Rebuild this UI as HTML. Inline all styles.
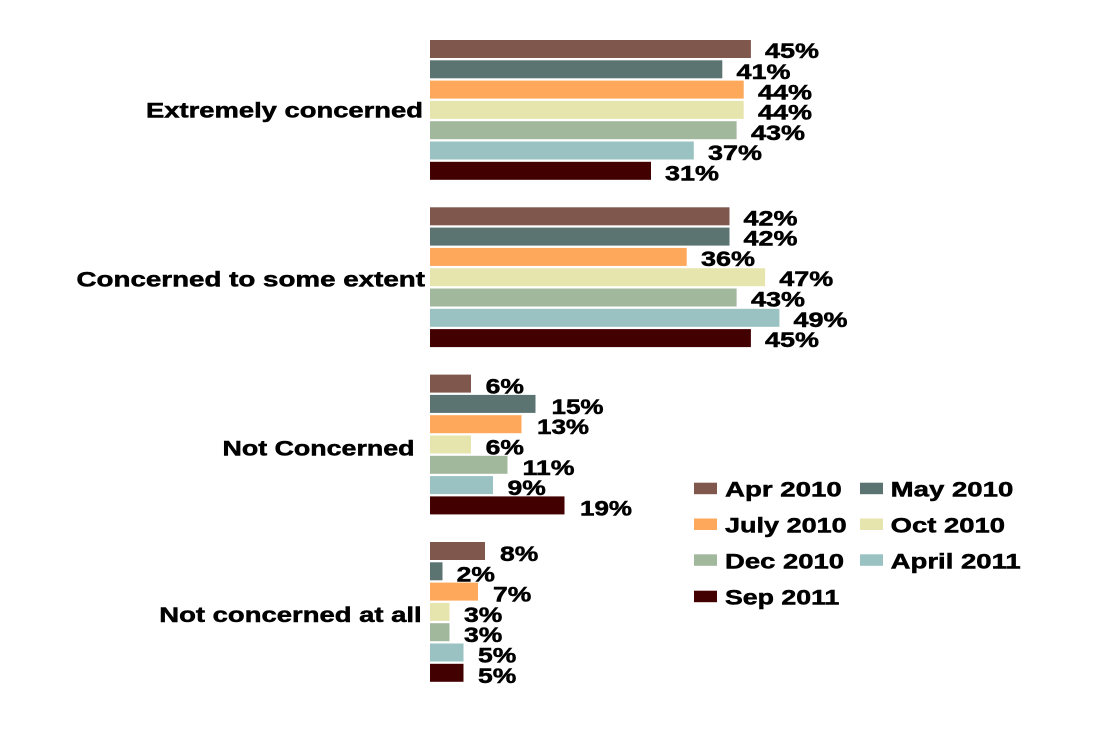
<!DOCTYPE html>
<html>
<head>
<meta charset="utf-8">
<style>
html,body{margin:0;padding:0;background:#ffffff;}
svg{display:block;}
text{font-family:"Liberation Sans",Arial,sans-serif;font-weight:bold;fill:#000;stroke:#000;stroke-width:0.5px;}
</style>
</head>
<body>
<svg width="1096" height="747" viewBox="0 0 1096 747" xmlns="http://www.w3.org/2000/svg">
<rect x="0" y="0" width="1096" height="747" fill="#ffffff"/>

<!-- Category labels -->
<text x="146" y="117.5" font-size="21" textLength="277" lengthAdjust="spacingAndGlyphs">Extremely concerned</text>
<text x="76.5" y="286.5" font-size="21" textLength="348.5" lengthAdjust="spacingAndGlyphs">Concerned to some extent</text>
<text x="222.5" y="455.7" font-size="21" textLength="192" lengthAdjust="spacingAndGlyphs">Not Concerned</text>
<text x="159.3" y="622" font-size="21" textLength="262.4" lengthAdjust="spacingAndGlyphs">Not concerned at all</text>

<!-- Group 1: Extremely concerned -->
<g>
<rect x="430" y="40" width="320.9" height="18" fill="#80574C"/>
<rect x="430" y="60.3" width="292.3" height="18" fill="#5B7472"/>
<rect x="430" y="80.6" width="313.7" height="18" fill="#FDA85A"/>
<rect x="430" y="100.9" width="313.7" height="18" fill="#E7E5AE"/>
<rect x="430" y="121.2" width="306.6" height="18" fill="#A2B89C"/>
<rect x="430" y="141.5" width="263.8" height="18" fill="#9BC2C2"/>
<rect x="430" y="161.8" width="221" height="18" fill="#430000"/>
</g>
<g font-size="21">
<text x="765" y="58" textLength="54" lengthAdjust="spacingAndGlyphs">45%</text>
<text x="736.5" y="79" textLength="54" lengthAdjust="spacingAndGlyphs">41%</text>
<text x="758" y="99.3" textLength="54" lengthAdjust="spacingAndGlyphs">44%</text>
<text x="758" y="119.6" textLength="54" lengthAdjust="spacingAndGlyphs">44%</text>
<text x="751" y="139.9" textLength="54" lengthAdjust="spacingAndGlyphs">43%</text>
<text x="708" y="160.2" textLength="54" lengthAdjust="spacingAndGlyphs">37%</text>
<text x="665" y="180.5" textLength="54" lengthAdjust="spacingAndGlyphs">31%</text>
</g>

<!-- Group 2: Concerned to some extent -->
<g>
<rect x="430" y="207.3" width="299.5" height="18" fill="#80574C"/>
<rect x="430" y="227.6" width="299.5" height="18" fill="#5B7472"/>
<rect x="430" y="247.9" width="256.7" height="18" fill="#FDA85A"/>
<rect x="430" y="268.2" width="335.1" height="18" fill="#E7E5AE"/>
<rect x="430" y="288.5" width="306.6" height="18" fill="#A2B89C"/>
<rect x="430" y="308.8" width="349.4" height="18" fill="#9BC2C2"/>
<rect x="430" y="329.1" width="320.9" height="18" fill="#430000"/>
</g>
<g font-size="21">
<text x="743.5" y="225.3" textLength="54" lengthAdjust="spacingAndGlyphs">42%</text>
<text x="743.5" y="245.6" textLength="54" lengthAdjust="spacingAndGlyphs">42%</text>
<text x="701" y="265.9" textLength="54" lengthAdjust="spacingAndGlyphs">36%</text>
<text x="779.3" y="286.2" textLength="54" lengthAdjust="spacingAndGlyphs">47%</text>
<text x="751" y="306.5" textLength="54" lengthAdjust="spacingAndGlyphs">43%</text>
<text x="793.5" y="326.8" textLength="54" lengthAdjust="spacingAndGlyphs">49%</text>
<text x="765" y="347.1" textLength="54" lengthAdjust="spacingAndGlyphs">45%</text>
</g>

<!-- Group 3: Not Concerned -->
<g>
<rect x="430" y="374.6" width="41" height="18" fill="#80574C"/>
<rect x="430" y="394.9" width="105.5" height="18" fill="#5B7472"/>
<rect x="430" y="415.2" width="91.5" height="18" fill="#FDA85A"/>
<rect x="430" y="435.5" width="41" height="18" fill="#E7E5AE"/>
<rect x="430" y="455.8" width="77.5" height="18" fill="#A2B89C"/>
<rect x="430" y="476.1" width="63" height="18" fill="#9BC2C2"/>
<rect x="430" y="496.4" width="134.5" height="18" fill="#430000"/>
</g>
<g font-size="21">
<text x="485.7" y="393.6" textLength="38.3" lengthAdjust="spacingAndGlyphs">6%</text>
<text x="551.5" y="413.9" textLength="52" lengthAdjust="spacingAndGlyphs">15%</text>
<text x="537" y="434.2" textLength="52" lengthAdjust="spacingAndGlyphs">13%</text>
<text x="485.7" y="454.5" textLength="38.3" lengthAdjust="spacingAndGlyphs">6%</text>
<text x="522.5" y="474.8" textLength="52" lengthAdjust="spacingAndGlyphs">11%</text>
<text x="507.5" y="495.1" textLength="38.3" lengthAdjust="spacingAndGlyphs">9%</text>
<text x="580" y="515.4" textLength="52" lengthAdjust="spacingAndGlyphs">19%</text>
</g>

<!-- Group 4: Not concerned at all -->
<g>
<rect x="430" y="542" width="55" height="18" fill="#80574C"/>
<rect x="430" y="562.3" width="12.5" height="18" fill="#5B7472"/>
<rect x="430" y="582.6" width="48" height="18" fill="#FDA85A"/>
<rect x="430" y="602.9" width="19.5" height="18" fill="#E7E5AE"/>
<rect x="430" y="623.2" width="19.5" height="18" fill="#A2B89C"/>
<rect x="430" y="643.5" width="33.5" height="18" fill="#9BC2C2"/>
<rect x="430" y="663.8" width="33.5" height="18" fill="#430000"/>
</g>
<g font-size="21">
<text x="500" y="561" textLength="38.3" lengthAdjust="spacingAndGlyphs">8%</text>
<text x="456.7" y="581.3" textLength="38.3" lengthAdjust="spacingAndGlyphs">2%</text>
<text x="493" y="601.6" textLength="38.3" lengthAdjust="spacingAndGlyphs">7%</text>
<text x="464" y="621.9" textLength="38.3" lengthAdjust="spacingAndGlyphs">3%</text>
<text x="464" y="642.2" textLength="38.3" lengthAdjust="spacingAndGlyphs">3%</text>
<text x="478" y="662.5" textLength="38.3" lengthAdjust="spacingAndGlyphs">5%</text>
<text x="478" y="682.8" textLength="38.3" lengthAdjust="spacingAndGlyphs">5%</text>
</g>

<!-- Legend -->
<g>
<rect x="694" y="482.7" width="23" height="11.5" fill="#80574C"/>
<text x="725" y="496.7" font-size="21" textLength="116.7" lengthAdjust="spacingAndGlyphs">Apr 2010</text>
<rect x="860" y="482.7" width="23" height="11.5" fill="#5B7472"/>
<text x="890.7" y="496.7" font-size="21" textLength="122.6" lengthAdjust="spacingAndGlyphs">May 2010</text>

<rect x="694" y="518.5" width="23" height="11.5" fill="#FDA85A"/>
<text x="725" y="532.5" font-size="21" textLength="121.7" lengthAdjust="spacingAndGlyphs">July 2010</text>
<rect x="860" y="518.5" width="23" height="11.5" fill="#E7E5AE"/>
<text x="890.7" y="532.5" font-size="21" textLength="114.3" lengthAdjust="spacingAndGlyphs">Oct 2010</text>

<rect x="694" y="554.3" width="23" height="11.5" fill="#A2B89C"/>
<text x="725" y="568.5" font-size="21" textLength="119" lengthAdjust="spacingAndGlyphs">Dec 2010</text>
<rect x="860" y="554.3" width="23" height="11.5" fill="#9BC2C2"/>
<text x="890.7" y="568.5" font-size="21" textLength="130" lengthAdjust="spacingAndGlyphs">April 2011</text>

<rect x="694" y="590.7" width="23" height="11.5" fill="#430000"/>
<text x="725" y="604.5" font-size="21" textLength="114.3" lengthAdjust="spacingAndGlyphs">Sep 2011</text>
</g>
</svg>
</body>
</html>
